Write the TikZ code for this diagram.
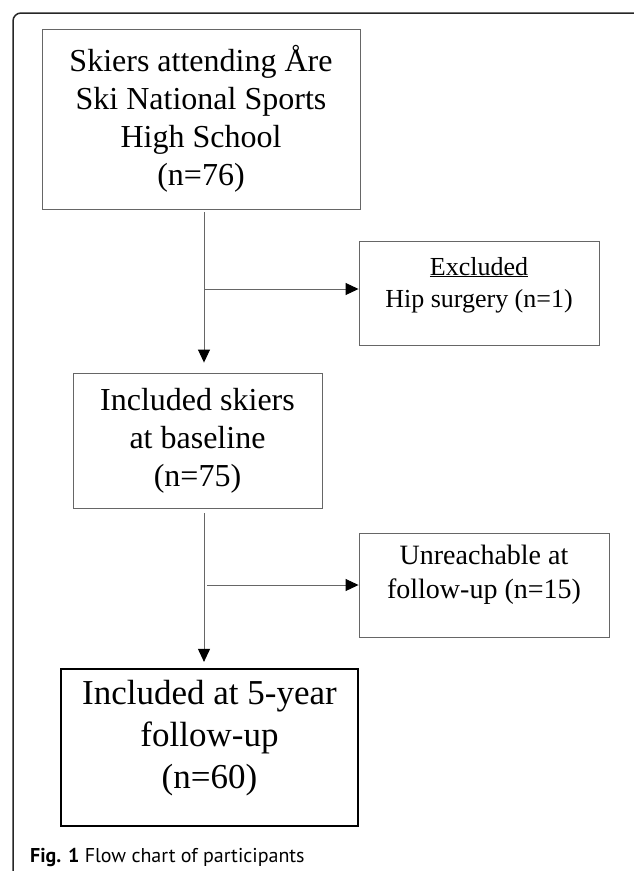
\documentclass[tikz,border=0pt]{standalone}
\usepackage{fontspec}
\setmainfont{Liberation Serif}
\newfontfamily\capfont{PT Sans}
\usetikzlibrary{arrows.meta}

\begin{document}
\begin{tikzpicture}[x=1pt, y=-1pt, >={Triangle[length=13pt,width=12pt,black]}]
\useasboundingbox (0,0) rectangle (633,871);
% panel frame, cut off at the right and bottom
\draw[line width=1.5pt, rounded corners=8pt, black!85] (13,880) -- (13,13) -- (645,13);

\node[draw=black!60, line width=0.9pt, rectangle, minimum width=318pt, minimum height=180pt, align=center, font=\fontsize{32}{38}\selectfont] (cohort) at (201,119) {Skiers attending Åre\\Ski National Sports\\High School\\(n=76)};
\node[draw=black!60, line width=0.9pt, rectangle, minimum width=240pt, minimum height=104pt, align=center, font=\fontsize{26}{32}\selectfont] (excluded) at (479,293) {\underline{Excluded}\\Hip surgery (n=1)\\[-10pt]~};
\node[draw=black!60, line width=0.9pt, rectangle, minimum width=249pt, minimum height=135pt, align=center, font=\fontsize{32}{38}\selectfont] (baseline) at (197.5,440.5) {Included skiers\\at baseline\\(n=75)};
\node[draw=black!60, line width=0.9pt, rectangle, minimum width=250pt, minimum height=104pt, align=center, font=\fontsize{28}{34}\selectfont] (lost) at (484,585) {Unreachable at\\follow-up (n=15)\\[-8pt]~};
\node[draw, line width=2.2pt, rectangle, minimum width=297pt, minimum height=157pt, align=center, font=\fontsize{35}{42}\selectfont] (followup) at (209.5,747.5) {Included at 5-year\\follow-up\\(n=60)\\[-16pt]~};
\node[anchor=base west, inner sep=0pt, font=\capfont\fontsize{20}{24}\selectfont] (caption) at (30,862) {\textbf{Fig. 1} Flow chart of participants};

\coordinate (trunk) at (204,0);
\draw[->, draw=black!60, line width=0.9pt, shorten <=3pt, shorten >=10pt] (cohort.south -| trunk) -- (baseline.north -| trunk);
\draw[->, draw=black!60, line width=0.9pt] ([yshift=4pt]excluded.west -| trunk) -- ([yshift=4pt]excluded.west);
\draw[->, draw=black!60, line width=0.9pt, shorten <=5pt, shorten >=6pt] (baseline.south -| trunk) -- (followup.north -| trunk);
\draw[->, draw=black!60, line width=0.9pt] ([xshift=3pt]lost.west -| trunk) -- (lost.west);
\end{tikzpicture}
\end{document}
